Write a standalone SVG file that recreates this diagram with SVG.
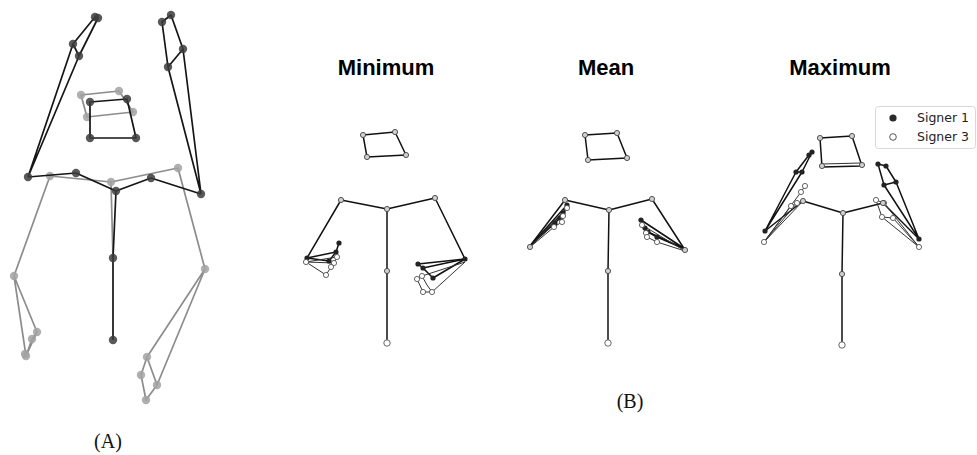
<svg xmlns="http://www.w3.org/2000/svg" width="977" height="455" viewBox="0 0 977 455">
  <style>
    .la { fill: none; stroke: #151515; stroke-width: 1.7; stroke-linejoin: round; }
    .lg { fill: none; stroke: #8c8c8c; stroke-width: 1.7; stroke-linejoin: round; }
    .na { fill: #3c3c3c; fill-opacity: 0.85; }
    .ng { fill: #a2a2a2; fill-opacity: 0.85; }
    .lb { fill: none; stroke: #111; stroke-width: 1.5; stroke-linejoin: round; }
    .lw { fill: none; stroke: #333; stroke-width: 1; stroke-linejoin: round; }
    .s1 { fill: #222; }
    .s3 { fill: #fff; stroke: #555; stroke-width: 0.9; }
    .sb { fill: #cfcfcf; stroke: #444; stroke-width: 0.9; }
    .title { font-family: "Liberation Sans", Arial, sans-serif; font-weight: bold; font-size: 22px; fill: #000; text-anchor: middle; }
    .cap { font-family: "Liberation Serif", "Times New Roman", serif; font-size: 20px; fill: #111; text-anchor: middle; }
    .leg { font-family: "DejaVu Sans", sans-serif; font-size: 12.5px; fill: #222; }
  </style>

  <!-- Panel A: two overlaid skeletons -->
  <g id="panel-a">
    <g id="a-gray">
      <polyline class="lg" points="14,276 50,176 111,182 178,168 205,269"/>
      <polyline class="lg" points="111,182 113,258"/>
      <polyline class="lg" points="14,276 37,332 26,356 14,276"/>
      <polyline class="lg" points="26,356 32,339 37,332"/>
      <polyline class="lg" points="205,269 147,357 141,375 146,400 157,385 205,269"/>
      <polyline class="lg" points="147,357 157,385"/>
      <polygon class="lg" points="81,95 119,91 133,112 87,117"/>
      <g>
        <circle class="ng" cx="50" cy="176" r="4.2"/>
        <circle class="ng" cx="111" cy="182" r="4.2"/>
        <circle class="ng" cx="178" cy="168" r="4.2"/>
        <circle class="ng" cx="14" cy="276" r="4.2"/>
        <circle class="ng" cx="205" cy="269" r="4.2"/>
        <circle class="ng" cx="37" cy="332" r="4.2"/>
        <circle class="ng" cx="32" cy="339" r="4.2"/>
        <circle class="ng" cx="26" cy="356" r="4.2"/>
        <circle class="ng" cx="25" cy="354" r="4.2"/>
        <circle class="ng" cx="147" cy="357" r="4.2"/>
        <circle class="ng" cx="141" cy="375" r="4.2"/>
        <circle class="ng" cx="157" cy="385" r="4.2"/>
        <circle class="ng" cx="146" cy="400" r="4.2"/>
        <circle class="ng" cx="81" cy="95" r="4.2"/>
        <circle class="ng" cx="119" cy="91" r="4.2"/>
        <circle class="ng" cx="133" cy="112" r="4.2"/>
        <circle class="ng" cx="87" cy="117" r="4.2"/>
      </g>
    </g>
    <g id="a-dark">
      <polyline class="la" points="28,177 76,173 116,191 151,178 201,194"/>
      <polyline class="la" points="116,191 113,258 113,340"/>
      <polyline class="la" points="28,177 73,44 95,17 98,18 79,56 28,177"/>
      <polyline class="la" points="73,44 79,56"/>
      <polyline class="la" points="201,194 168,67 162,22 171,15 183,49 201,194"/>
      <polyline class="la" points="183,49 168,67"/>
      <polygon class="la" points="90,102 127,99 136,138 90,138"/>
      <g>
        <circle class="na" cx="28" cy="177" r="4.2"/>
        <circle class="na" cx="76" cy="173" r="4.2"/>
        <circle class="na" cx="116" cy="191" r="4.2"/>
        <circle class="na" cx="151" cy="178" r="4.2"/>
        <circle class="na" cx="201" cy="194" r="4.2"/>
        <circle class="na" cx="113" cy="258" r="4.2"/>
        <circle class="na" cx="113" cy="340" r="4.2"/>
        <circle class="na" cx="73" cy="44" r="4.2"/>
        <circle class="na" cx="79" cy="56" r="4.2"/>
        <circle class="na" cx="95" cy="17" r="4.2"/>
        <circle class="na" cx="98" cy="18" r="4.2"/>
        <circle class="na" cx="162" cy="22" r="4.2"/>
        <circle class="na" cx="171" cy="15" r="4.2"/>
        <circle class="na" cx="183" cy="49" r="4.2"/>
        <circle class="na" cx="168" cy="67" r="4.2"/>
        <circle class="na" cx="90" cy="102" r="4.2"/>
        <circle class="na" cx="127" cy="99" r="4.2"/>
        <circle class="na" cx="136" cy="138" r="4.2"/>
        <circle class="na" cx="90" cy="138" r="4.2"/>
      </g>
    </g>
    <text class="cap" x="108" y="448">(A)</text>
  </g>

  <!-- Panel B: Minimum -->
  <g id="pose-minimum">
    <text class="title" x="386" y="75">Minimum</text>
    <polygon class="lb" points="363,135 395,132 406,155 367,157"/>
    <polyline class="lb" points="307,258 341,200 387,209 435,198 465,259"/>
    <polyline class="lb" points="387,209 387,271 387,343"/>
    <!-- left hand -->
    <polyline class="lb" points="307,258 336,252 339,243"/>
    <polyline class="lb" points="307,258 329,261 336,252"/>
    <polyline class="lw" points="306,262 337,257 334,263 331,267 326,275 306,262"/>
    <polyline class="lw" points="306,262 334,263"/>
    <!-- right hand -->
    <polyline class="lb" points="465,259 418,264 423,268 433,278 465,259"/>
    <polyline class="lb" points="465,259 423,268"/>
    <polyline class="lw" points="465,262 422,276 417,279 423,292 432,292 465,262"/>
    <polyline class="lw" points="422,276 427,285 432,292"/>
    <g>
      <circle class="s1" cx="339" cy="243" r="2.6"/>
      <circle class="s1" cx="336" cy="252" r="2.6"/>
      <circle class="s1" cx="329" cy="261" r="2.6"/>
      <circle class="s1" cx="307" cy="258" r="2.6"/>
      <circle class="s3" cx="337" cy="257" r="2.6"/>
      <circle class="s3" cx="334" cy="263" r="2.6"/>
      <circle class="s3" cx="331" cy="267" r="2.6"/>
      <circle class="s3" cx="326" cy="275" r="2.6"/>
      <circle class="s3" cx="306" cy="262" r="2.6"/>
      <circle class="s1" cx="418" cy="264" r="2.6"/>
      <circle class="s1" cx="423" cy="268" r="2.6"/>
      <circle class="s1" cx="433" cy="278" r="2.6"/>
      <circle class="s1" cx="465" cy="259" r="2.6"/>
      <circle class="s3" cx="422" cy="276" r="2.6"/>
      <circle class="s3" cx="417" cy="279" r="2.6"/>
      <circle class="s3" cx="423" cy="292" r="2.6"/>
      <circle class="s3" cx="432" cy="292" r="2.6"/>
      <circle class="sb" cx="363" cy="135" r="2.6"/>
      <circle class="sb" cx="395" cy="132" r="2.6"/>
      <circle class="sb" cx="406" cy="155" r="2.6"/>
      <circle class="sb" cx="367" cy="157" r="2.6"/>
      <circle class="sb" cx="341" cy="200" r="2.6"/>
      <circle class="sb" cx="387" cy="209" r="2.6"/>
      <circle class="sb" cx="435" cy="198" r="2.6"/>
      <circle class="sb" cx="387" cy="271" r="2.6"/>
      <circle class="s3" cx="387" cy="343" r="3.2"/>
    </g>
  </g>

  <!-- Panel B: Mean -->
  <g id="pose-mean">
    <text class="title" x="606" y="75">Mean</text>
    <polygon class="lb" points="585,135 617,133 627,158 588,160"/>
    <polyline class="lb" points="530,246 565,200 609,210 652,199 685,250"/>
    <polyline class="lb" points="609,210 608,271 608,343"/>
    <!-- left hand -->
    <polyline class="lb" points="530,246 567,205 563,213 560,218 555,223 530,246"/>
    <polyline class="lb" points="530,246 563,213"/>
    <polyline class="lw" points="529,248 567,208 563,216 562,222 554,227 529,248"/>
    <!-- right hand -->
    <polyline class="lb" points="685,249 641,220 645,228 648,232 657,237 685,249"/>
    <polyline class="lb" points="685,249 648,232"/>
    <polyline class="lw" points="685,251 642,225 646,233 647,237 657,242 685,251"/>
    <g>
      <circle class="s1" cx="567" cy="205" r="2.6"/>
      <circle class="s1" cx="563" cy="213" r="2.6"/>
      <circle class="s1" cx="560" cy="218" r="2.6"/>
      <circle class="s1" cx="555" cy="223" r="2.6"/>
      <circle class="s3" cx="567" cy="208" r="2.6"/>
      <circle class="s3" cx="563" cy="216" r="2.6"/>
      <circle class="s3" cx="562" cy="222" r="2.6"/>
      <circle class="s3" cx="554" cy="227" r="2.6"/>
      <circle class="s1" cx="641" cy="220" r="2.6"/>
      <circle class="s1" cx="645" cy="228" r="2.6"/>
      <circle class="s1" cx="648" cy="232" r="2.6"/>
      <circle class="s1" cx="657" cy="237" r="2.6"/>
      <circle class="s3" cx="642" cy="225" r="2.6"/>
      <circle class="s3" cx="646" cy="233" r="2.6"/>
      <circle class="s3" cx="647" cy="237" r="2.6"/>
      <circle class="s3" cx="657" cy="242" r="2.6"/>
      <circle class="sb" cx="530" cy="247" r="2.6"/>
      <circle class="sb" cx="685" cy="250" r="2.6"/>
      <circle class="sb" cx="585" cy="135" r="2.6"/>
      <circle class="sb" cx="617" cy="133" r="2.6"/>
      <circle class="sb" cx="627" cy="158" r="2.6"/>
      <circle class="sb" cx="588" cy="160" r="2.6"/>
      <circle class="sb" cx="565" cy="200" r="2.6"/>
      <circle class="sb" cx="609" cy="210" r="2.6"/>
      <circle class="sb" cx="652" cy="199" r="2.6"/>
      <circle class="sb" cx="608" cy="271" r="2.6"/>
      <circle class="s3" cx="608" cy="343" r="3.2"/>
    </g>
    <text class="cap" x="630" y="408">(B)</text>
  </g>

  <!-- Panel B: Maximum -->
  <g id="pose-maximum">
    <text class="title" x="840" y="75">Maximum</text>
    <polygon class="lb" points="820,138 852,136 862,166 822,167"/>
    <polyline class="lw" points="822,164 861,163"/>
    <polyline class="lb" points="803,201 843,213 883,203"/>
    <polyline class="lb" points="843,213 842,274 842,345"/>
    <!-- left hand -->
    <polyline class="lb" points="765,231 796,172 809,155 812,152 802,172 765,231"/>
    <polyline class="lb" points="796,172 802,172"/>
    <polyline class="lb" points="765,231 803,201"/>
    <polyline class="lw" points="764,242 801,192 805,186"/>
    <polyline class="lw" points="764,242 791,206 797,203 764,242"/>
    <polyline class="lw" points="764,242 803,201 797,203"/>
    <!-- right hand -->
    <polyline class="lb" points="919,239 884,185 878,164 886,166 896,182 919,239"/>
    <polyline class="lb" points="884,185 896,182"/>
    <polyline class="lb" points="919,239 883,203"/>
    <polyline class="lw" points="919,247 884,203 876,200 882,217 893,218 919,247"/>
    <polyline class="lw" points="919,247 882,217"/>
    <g>
      <circle class="s1" cx="765" cy="231" r="2.6"/>
      <circle class="s1" cx="796" cy="172" r="2.6"/>
      <circle class="s1" cx="802" cy="172" r="2.6"/>
      <circle class="s1" cx="809" cy="155" r="2.6"/>
      <circle class="s1" cx="812" cy="152" r="2.6"/>
      <circle class="s3" cx="764" cy="242" r="2.6"/>
      <circle class="s3" cx="805" cy="186" r="2.6"/>
      <circle class="s3" cx="801" cy="192" r="2.6"/>
      <circle class="s3" cx="791" cy="206" r="2.6"/>
      <circle class="s3" cx="797" cy="203" r="2.6"/>
      <circle class="s1" cx="919" cy="239" r="2.6"/>
      <circle class="s1" cx="878" cy="164" r="2.6"/>
      <circle class="s1" cx="886" cy="166" r="2.6"/>
      <circle class="s1" cx="884" cy="185" r="2.6"/>
      <circle class="s1" cx="896" cy="182" r="2.6"/>
      <circle class="s3" cx="919" cy="247" r="2.6"/>
      <circle class="s3" cx="876" cy="200" r="2.6"/>
      <circle class="s3" cx="884" cy="203" r="2.6"/>
      <circle class="s3" cx="882" cy="217" r="2.6"/>
      <circle class="s3" cx="893" cy="218" r="2.6"/>
      <circle class="sb" cx="820" cy="138" r="2.6"/>
      <circle class="sb" cx="852" cy="136" r="2.6"/>
      <circle class="sb" cx="862" cy="165" r="2.6"/>
      <circle class="sb" cx="822" cy="166" r="2.6"/>
      <circle class="sb" cx="803" cy="201" r="2.6"/>
      <circle class="sb" cx="843" cy="213" r="2.6"/>
      <circle class="sb" cx="883" cy="203" r="2.6"/>
      <circle class="sb" cx="842" cy="274" r="2.6"/>
      <circle class="s3" cx="842" cy="345" r="3.2"/>
    </g>
  </g>

  <!-- Legend -->
  <g id="legend">
    <rect x="875.5" y="106.5" width="100" height="42" rx="3" fill="#fff" fill-opacity="0.8" stroke="#d8d8d8" stroke-width="1"/>
    <circle cx="893" cy="118" r="3.6" fill="#2a2a2a"/>
    <text class="leg" x="917" y="122">Signer 1</text>
    <circle cx="893" cy="137" r="3.3" fill="#fff" stroke="#444" stroke-width="0.9"/>
    <text class="leg" x="917" y="141">Signer 3</text>
  </g>
</svg>
